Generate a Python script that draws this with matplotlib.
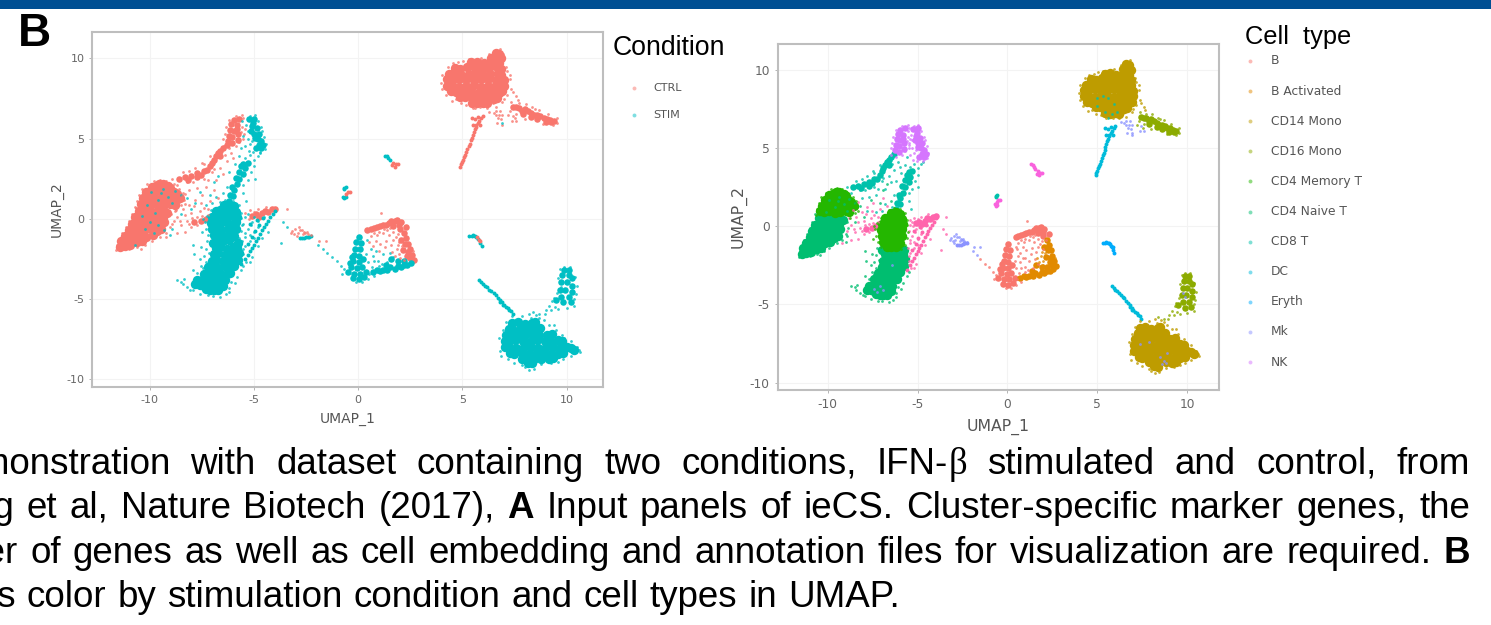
import matplotlib
matplotlib.use("Agg")
import matplotlib.pyplot as plt
from matplotlib.patches import Rectangle

W, H = 1491, 625

conditions = ["CTRL", "STIM"]
condition_colors = ["#F8766D", "#00BFC4"]
cell_types = ["B", "B Activated", "CD14 Mono", "CD16 Mono", "CD4 Memory T", "CD4 Naive T",
              "CD8 T", "DC", "Eryth", "Mk", "NK", "pDC", "T activated"]
cell_colors = ["#F8766D", "#E18A00", "#BE9C00", "#8CAB00", "#24B700", "#00BE70",
               "#00C1AB", "#00BBDA", "#00ACFC", "#8B93FF", "#D575FE", "#F962DD", "#FF65AC"]
x_ticks = [-10, -5, 0, 5, 10]
y_ticks = [-10, -5, 0, 5, 10]

# umap coordinates, one list per cell type and condition
cd4n_ctrl = [(-11.4,-1.75),(-11.2,-1.7),(-10.95,-1.65),(-11.35,-1.4),(-11.15,-1.45),(-10.9,-1.35),(-10.6,-1.45),(-10.35,-1.4),
             (-11.2,-1.05),(-10.95,-1.0),(-10.7,-1.1),(-10.45,-1.0),(-10.15,-1.1),(-9.85,-1.0),(-11.0,-0.7),(-10.8,-0.75),
             (-10.55,-0.65),(-10.25,-0.7),(-9.95,-0.65),(-9.65,-0.75),(-9.45,-0.6),(-10.85,-0.3),(-10.65,-0.35),(-10.4,-0.25),
             (-10.1,-0.3),(-9.8,-0.25),(-9.5,-0.35),(-9.3,-0.2),(-10.7,0.1),(-10.5,0.05),(-10.2,0.15),(-9.9,0.1),(-9.6,0.05),
             (-9.35,0.15),(-10.5,0.5),(-10.3,0.45),(-10.0,0.5),(-9.7,0.45),(-9.4,0.5),(-9.15,0.4)]
cd4n_ctrl_sp = [(-11.6,-1.95),(-11.55,-1.6),(-11.45,-1.25),(-11.3,-0.85),(-11.15,-0.5),(-11.0,-0.1),(-10.85,0.3),(-10.7,0.75),(-11.0,-1.9),
                (-10.6,-1.75),(-10.2,-1.6),(-9.9,-1.4),(-9.5,-1.1),(-9.2,-0.85),(-9.0,-0.5),(-8.85,-0.1),(-8.95,0.3),(-10.4,-1.85)]
cd4m_ctrl = [(-10.4,0.95),(-10.2,0.9),(-9.9,0.95),(-9.6,0.85),(-9.3,0.9),(-9.0,0.95),(-8.8,0.9),(-10.3,1.3),(-10.1,1.25),
             (-9.8,1.35),(-9.5,1.25),(-9.2,1.3),(-8.9,1.35),(-8.7,1.25),(-8.55,1.3),(-10.15,1.65),(-10.0,1.65),(-9.7,1.75),
             (-9.4,1.65),(-9.1,1.7),(-8.85,1.7),(-8.7,1.55),(-9.9,2.0),(-9.7,2.05),(-9.4,2.0),(-9.1,2.05),(-9.0,1.95),
             (-9.55,2.2),(-9.35,2.2)]
cd4m_ctrl_sp = [(-10.65,0.7),(-10.6,1.1),(-10.5,1.5),(-10.35,1.85),(-10.1,2.15),(-9.8,2.35),(-9.5,2.45),(-9.2,2.35),(-8.85,2.15),(-8.6,1.85),
                (-8.4,1.6),(-8.35,1.2),(-8.5,0.85),(-8.75,0.55),(-8.3,0.95),(-8.45,1.45)]
cd4m_stim = [(-6.45,0.85),(-6.2,0.9),(-5.95,0.8),(-6.8,0.5),(-6.6,0.55),(-6.3,0.5),(-6.0,0.55),(-5.85,0.45),(-7.0,0.15),(-6.8,0.2),
             (-6.5,0.1),(-6.2,0.2),(-5.9,0.1),(-5.8,0.15),(-7.05,-0.25),(-6.85,-0.2),(-6.6,-0.3),(-6.3,-0.2),(-6.0,-0.3),
             (-5.85,-0.2),(-7.0,-0.65),(-6.8,-0.6),(-6.55,-0.7),(-6.25,-0.6),(-5.95,-0.7),(-5.85,-0.6),(-6.9,-1.0),(-6.7,-1.0),
             (-6.4,-1.1),(-6.1,-1.0),(-5.95,-1.05),(-6.7,-1.3),(-6.5,-1.35),(-6.2,-1.3)]
cd4m_stim_sp = [(-6.6,1.05),(-6.3,1.15),(-6.0,1.1),(-5.7,0.85),(-7.05,0.55),(-7.25,0.2),(-7.35,-0.2),(-7.3,-0.6),(-7.2,-1.0),(-7.05,-1.35),
                (-5.6,0.4),(-5.6,0.05),(-5.55,-0.35),(-5.6,-0.75),(-5.7,-1.2),(-5.9,-1.45),(-7.45,0.0),(-7.5,-0.8)]
cd4n_stim = [(-6.8,-1.8),(-6.6,-1.75),(-6.3,-1.85),(-6.0,-1.75),(-5.8,-1.8),(-6.9,-2.2),(-6.7,-2.15),(-6.4,-2.25),(-6.1,-2.15),
             (-5.85,-2.2),(-5.7,-2.1),(-7.0,-2.6),(-6.8,-2.55),(-6.5,-2.65),(-6.2,-2.55),(-5.9,-2.6),(-5.75,-2.55),(-7.2,-3.0),
             (-7.0,-2.95),(-6.7,-3.05),(-6.4,-2.95),(-6.1,-3.0),(-5.95,-2.95),(-7.4,-3.4),(-7.2,-3.35),(-6.9,-3.45),(-6.6,-3.35),
             (-6.3,-3.4),(-6.15,-3.35),(-7.7,-3.8),(-7.5,-3.8),(-7.2,-3.75),(-6.9,-3.85),(-6.6,-3.75),(-6.4,-3.8),(-7.8,-4.05),
             (-7.6,-4.1),(-7.4,-4.15),(-7.2,-4.15),(-6.9,-4.2),(-6.6,-4.15),(-6.5,-4.15),(-7.3,-4.35),(-7.1,-4.4),(-6.9,-4.4),
             (-6.7,-4.4),(-6.95,-1.5),(-5.75,-1.5)]
cd4n_stim_sp = [(-8.7,-3.8),(-8.5,-3.9),(-8.35,-3.75),(-8.2,-4.25),(-7.9,-4.45),(-6.35,-4.7),(-6.6,-4.85),(-7.7,-3.35),
                (-7.55,-2.9),(-7.6,-2.5),(-7.85,-2.2),(-7.4,-2.3),(-7.3,-1.85),(-7.55,-1.75),(-7.9,-1.6),(-7.25,-1.4),
                (-10.1,0.9),(-9.6,1.2),(-9.1,1.4),(-8.9,1.0),(-8.5,1.5),(-8.2,1.3),(-10.2,-0.6),(-9.8,-0.9),(-9.3,-0.7),
                (-9.0,-1.0),(-10.7,-1.6),(-8.9,-0.6),(-8.5,0.3),(-8.0,0.6),(-7.6,1.7),(-7.1,1.5),(-6.9,2.3),(-6.5,1.6),
                (-6.7,2.7),(-5.6,-3.2),(-5.8,-3.6),(-6.1,-3.9),(-7.9,-3.2),(-7.3,-2.7),(-7.6,-4.65),(-7.2,-4.75),(-6.95,-4.8),
                (-8.05,-4.4),(-8.4,-4.05),(-5.5,-2.9),(-5.9,-4.0),(-6.2,-4.3),(-6.2,-4.55),(-7.45,-3.05),(-7.15,-2.15),
                (-9.95,1.7),(-9.45,1.6),(-9.75,0.4),(-10.0,-0.2),(-9.6,-0.4),(-9.35,1.85),(-8.8,1.75),(-10.35,0.2)]
cd8_ctrl = [(-8.6,2.5),(-8.3,2.6),(-8.0,2.7),(-7.7,2.85),(-7.4,3.0),(-7.7,2.6),(-7.1,3.3),(-6.9,3.7),(-6.7,4.1),(-6.5,4.4),
            (-6.3,4.6),(-6.6,3.9),(-8.15,2.45),(-7.55,2.75),(-7.25,3.05),(-7.0,3.5),(-6.8,3.9),(-6.6,4.25)]
cd8_ctrl_sp = [(-8.9,2.5),(-8.7,2.1),(-8.2,2.3),(-7.9,2.3),(-7.4,2.5),(-7.0,2.9),(-6.6,3.2),(-6.3,3.6),(-6.1,4.1),(-7.4,3.4),
               (-7.1,3.9),(-8.1,1.8),(-7.7,1.9),(-7.3,2.0),(-6.8,2.4),(5.0,8.2),(5.3,8.3),(5.6,8.2),(5.0,7.7),(5.9,7.8),
               (5.4,7.3),(5.8,7.2),(6.1,7.3),(5.6,6.9),(-8.4,2.9),(-8.1,3.0),(-7.8,3.2),(-7.5,3.5),(-7.2,2.4),(-6.5,2.8),
               (-6.9,3.1),(-6.4,4.0),(-6.0,3.8)]
cd8_stim = [(-6.2,1.1),(-6.0,1.45),(-5.95,1.8),(-5.8,2.15),(-5.7,2.5),(-5.5,2.8),(-5.4,3.15),(-5.3,3.5),(-5.6,3.3),(-6.15,1.5),
            (-6.05,2.0),(-5.85,2.55),(-5.7,2.95),(-5.5,3.45)]
cd8_stim_sp = [(-5.5,1.6),(-6.4,1.2),(-6.3,2.0),(-5.3,2.4),(-5.0,3.3),(-6.2,2.9),(-5.9,3.4),(-5.7,3.9),(-5.2,4.0),(-5.6,4.4),
               (-5.0,3.7),(-4.8,3.95),(-7.0,1.0),(-6.8,1.4),(-7.3,0.9),(-7.8,1.0),(-5.35,1.1),(-5.5,2.1),(-5.15,2.9),(-4.95,2.5),
               (-4.7,4.1),(-5.4,3.8)]
nk_ctrl = [(-5.7,6.25),(-5.95,6.15),(-6.1,5.9),(-5.8,5.85),(-6.15,5.55),(-5.95,5.5),(-6.2,5.2),(-6.05,5.1),(-5.75,5.3),(-6.25,4.85),
           (-6.05,4.75),(-5.8,5.6),(-5.75,4.95)]
nk_ctrl_sp = [(-5.5,6.3),(-5.55,5.7),(-5.45,5.3),(-5.7,4.8),(-5.5,5.0),(-6.45,4.55),(-6.2,4.45),(-5.85,4.55),(-6.5,5.0),(-5.55,6.45),
              (-5.85,6.4),(-6.2,6.15),(-6.35,5.7),(-6.4,5.3),(-5.6,5.45),(-5.4,5.6)]
nk_stim = [(-5.0,6.25),(-5.25,6.2),(-5.05,5.95),(-4.85,5.65),(-5.15,5.5),(-4.75,5.3),(-4.95,5.05),(-4.65,4.85),(-4.75,4.6),(-4.55,4.6),
           (-4.9,4.4),(-4.65,4.45),(-5.1,5.8),(-5.0,5.3),(-4.8,5.0)]
nk_stim_sp = [(-5.35,5.85),(-5.5,5.2),(-5.3,5.0),(-5.2,4.7),(-5.4,4.55),(-5.25,4.25),(-4.65,5.7),(-5.55,6.1),(-5.3,5.5),(-5.1,4.85),
              (-4.95,6.45),(-5.2,6.4),(-4.8,6.1),(-4.6,5.5),(-4.5,5.1),(-4.4,4.7),(-4.45,4.35),(-4.7,4.2),(-5.05,4.15)]
tact_ctrl = [(-4.0,0.65),(-4.3,0.45),(-4.6,0.35),(-4.9,0.3),(-5.1,0.2),(-7.3,0.0),(-7.55,-0.1),(-7.85,-0.2),(-4.15,0.6),(-4.45,0.5),(-4.75,0.15)]
tact_ctrl_sp = [(-8.7,0.1),(-8.4,0.6),(-8.1,0.9),(-7.8,1.2),(-7.4,0.7),(-8.9,-0.3),(-8.5,-0.4),(-8.2,-0.1),(-8.0,0.35),(-7.6,0.5),
                (-7.2,0.6),(-7.1,1.1),(-8.6,1.05),(-7.5,1.5),(-6.9,1.8),(-6.7,1.3),(-8.3,-0.8),(-8.7,-0.9),(-9.2,-1.1),(-8.0,-0.5),
                (-7.7,0.15),(-8.8,0.5),(-4.8,0.6),(-4.4,0.75),(-5.4,0.4),(-3.4,0.6),(-8.3,0.25),(-7.95,0.05),(-7.5,0.2),(-7.2,0.25),
                (-8.55,-0.15),(-8.1,-0.3),(-7.7,-0.35),(-8.3,1.55),(-7.85,0.8),(-7.55,1.0),(-5.2,0.55),(-5.0,0.45),(-5.25,0.0)]
tact_stim = [(-4.0,0.5),(-4.2,0.1),(-4.4,-0.3),(-4.6,-0.7),(-4.8,-1.2),(-5.0,-1.6),(-5.2,-2.0),(-5.4,-2.5),(-5.6,-2.8),(-4.1,0.3),
             (-4.3,-0.1),(-4.5,-0.5),(-4.7,-0.95),(-4.9,-1.4),(-5.1,-1.8),(-5.3,-2.25),(-4.75,-0.35),(-4.95,-0.75),(-4.55,0.05),(-4.85,-0.05),
             (-5.2,-0.3),(-5.1,-1.15),(-5.3,-1.55)]
tact_stim_sp = [(-5.4,0.1),(-5.1,-0.2),(-4.8,-0.1),(-4.5,0.1),(-5.3,-0.6),(-5.0,-0.8),(-4.8,-0.5),(-5.4,-1.1),(-5.2,-1.4),(-5.4,-1.7),
                (-5.5,-2.2),(-5.0,0.1),(-5.2,-1.0),(-4.6,-1.2),(-4.3,-0.8),(-5.5,-0.3),(-5.0,-1.2),(-4.8,-1.7),(-5.1,-2.4),(-3.6,-0.2),
                (-3.4,-0.5),(-3.7,-1.5),(-5.3,0.3),(-5.15,-0.4),(-5.4,-0.85),(-5.55,-1.4),(-5.5,-1.9),(-5.35,-2.7),(-5.2,-2.7)]
mk_ctrl_sp = [(-3.15,-0.75),(-3.0,-0.6),(-2.85,-0.5),(-2.9,-0.85),(-2.7,-0.7),(-2.55,-0.85),(-2.4,-0.95),(-2.25,-1.0),(-2.65,-0.95),
              (-3.2,-0.9),(-2.95,-1.05),(-1.85,-1.35),(-1.55,-1.35),(6.6,6.7),(6.75,6.5),(6.85,6.2),(6.5,6.6),(7.4,6.1),
              (7.45,6.4),(7.6,6.1),(6.9,6.5),(6.3,6.65),(6.7,6.3),(-2.8,-0.7),(-2.6,-0.8),(-3.05,-0.95),(-2.45,-0.8),(6.6,6.45),(6.8,6.75),
              (6.65,5.95),(6.9,5.85)]
mk_stim = [(-2.8,-1.2),(-2.6,-1.2),(-2.4,-1.1),(-2.25,-1.05),(-2.7,-1.2),(-2.5,-1.15),(-2.35,-1.1)]
mk_stim_sp = [(-1.9,-1.6),(-1.7,-1.85),(8.7,-8.6),(8.5,-8.35),(8.9,-8.1),(7.4,-7.5),(9.9,-4.5),(9.75,-4.25),(6.9,5.95),(-6.9,-4.1),
              (-7.4,-4.0),(-7.1,-3.8),(-6.4,-2.5),(8.6,-8.8),(8.8,-8.75),(7.9,-7.4),(-7.25,-4.2)]
b_stim = [(0.05,-1.15),(-0.1,-1.45),(0.15,-1.5),(-0.15,-1.85),(0.1,-1.9),(-0.2,-2.25),(0.05,-2.3),(-0.25,-2.65),(0.05,-2.7),(-0.35,-3.0),
          (-0.05,-3.05),(0.2,-3.0),(-0.5,-3.3),(-0.2,-3.4),(0.1,-3.4),(0.4,-3.3),(-0.25,-3.7),(0.05,-3.75),(0.3,-3.6),(-0.3,-2.4),(-0.4,-2.75),(0.25,-2.5)]
b_stim_sp = [(-1.5,-2.1),(-1.25,-2.4),(-1.0,-2.6),(-0.8,-2.9),(0.5,-2.7),(0.7,-2.3),(0.95,-2.6),(1.2,-2.2),(1.0,-2.9),(0.6,-1.9),(1.4,-2.7),
             (0.65,-3.0),(0.45,-1.3),(1.55,-2.1),(0.4,-2.2),(-0.65,-3.1),(-0.75,-3.4),(0.5,-3.75),(0.2,-3.95),(-0.1,-3.95),(0.75,-2.65),(0.85,-2.0),
             (1.15,-2.8),(0.55,-3.4),(0.75,-3.55),(1.7,-2.4)]
b_ctrl = [(0.45,-0.7),(0.75,-0.55),(1.05,-0.45),(1.35,-0.35),(1.6,-0.1),(1.85,-0.05),(2.05,-0.2),(1.7,-0.45),(2.3,-0.5),(2.0,-0.6),
          (0.6,-0.65),(0.9,-0.5),(1.2,-0.4),(1.5,-0.25),(1.75,-0.1),(1.95,-0.35)]
b_ctrl_sp = [(0.9,-1.0),(1.2,-0.9),(1.5,-1.0),(1.7,-1.3),(1.35,-1.4),(1.05,-1.55),(0.85,-1.35),(1.9,-0.95),(1.1,0.35),(0.7,-1.7),
             (1.3,-1.75),(1.6,-1.65),(1.95,-1.45),(0.55,-1.45),(1.0,-2.0),(0.6,-1.05),(1.0,-0.8),(1.4,-0.7),(1.7,-0.8),(2.15,-0.9),(1.55,-0.55),
             (1.25,-0.65),(0.75,-0.85),(1.8,-1.15)]
bact_ctrl = [(2.2,-0.85),(2.3,-1.2),(2.4,-1.55),(2.5,-1.9),(2.6,-2.25),(2.7,-2.55),(2.35,-2.3),(2.15,-1.95),(2.05,-1.3),(2.25,-1.55),(2.4,-2.05),
             (2.5,-2.45)]
bact_ctrl_sp = [(1.85,-1.9),(1.65,-2.05),(1.95,-2.2),(2.2,-2.55),(1.75,-2.3),(1.9,-1.65),(2.1,-1.7),(2.65,-2.0),(2.0,-2.45)]
bact_stim = [(0.7,-3.3),(1.05,-3.25),(1.4,-3.2),(1.75,-3.1),(2.05,-3.0),(2.35,-2.85),(2.55,-2.75),(1.9,-2.6),(1.6,-2.5),(1.35,-2.85),
             (2.2,-2.6),(0.9,-3.2),(1.2,-3.15),(1.55,-3.0),(1.9,-2.9),(2.2,-2.85)]
pdc_stim = [(1.3,3.95),(1.4,3.9),(1.45,3.8),(1.55,3.65),(-0.7,1.4),(-0.65,1.3),(-0.6,1.35)]
pdc_ctrl = [(1.7,3.5),(1.75,3.25),(1.9,3.4),(1.65,3.35),(1.8,3.4),(-0.5,1.65),(-0.6,1.55),(-0.4,1.7)]
cd8_small = [(-0.65,1.95),(-0.65,1.85),(-0.6,2.0)]
cd14_ctrl = [(6.6,10.35),(6.75,10.3),(6.4,10.05),(6.7,10.05),(6.85,10.0),(5.4,9.75),(5.7,9.8),(6.05,9.7),(6.4,9.75),(6.75,9.7),
             (4.65,9.4),(4.9,9.35),(5.25,9.45),(5.6,9.4),(5.95,9.35),(6.3,9.4),(6.65,9.45),(6.85,9.35),(4.35,9.05),(4.6,9.1),
             (4.95,9.0),(5.3,9.05),(5.65,9.1),(6.0,9.0),(6.35,9.05),(6.7,9.1),(6.85,9.0),(4.25,8.7),(4.5,8.65),(4.85,8.75),
             (5.2,8.7),(5.55,8.65),(5.9,8.75),(6.25,8.7),(6.6,8.65),(6.85,8.75),(7.0,8.65),(4.25,8.3),(4.5,8.35),(4.85,8.25),
             (5.2,8.3),(5.55,8.35),(5.9,8.25),(6.25,8.3),(6.6,8.35),(6.85,8.25),(7.0,8.3),(4.45,7.95),(4.7,7.9),(5.05,8.0),
             (5.4,7.9),(5.75,7.85),(6.1,7.95),(6.45,7.9),(6.75,7.85),(6.9,7.95),(4.9,7.6),(5.15,7.6),(5.5,7.5),(5.85,7.55),
             (6.2,7.6),(6.5,7.5),(6.65,7.55),(5.45,7.25),(5.7,7.2),(6.0,7.25),(6.2,7.2)]
cd14_ctrl_sp = [(4.0,8.5),(4.05,9.0),(4.2,7.7),(4.5,7.35),(4.95,7.2),(5.3,9.95),(4.8,9.75),(5.9,10.05),(7.35,8.1),(7.45,7.9),(7.3,9.0),
                (7.1,9.5),(7.0,7.5),(6.6,7.0),(6.2,6.9),(5.5,6.9),(4.3,9.45),(4.55,9.7),(5.05,9.85),(6.3,10.3),(6.8,10.6),(6.95,10.3),(7.15,9.2),
                (7.3,8.7),(7.15,7.75),(4.05,8.1),(4.7,7.45),(5.2,7.1),(5.85,6.95),(6.45,7.25),(6.9,7.3),(7.6,7.65),(7.65,7.4)]
cd16_ctrl = [(7.45,7.0),(7.7,6.9),(8.0,6.85),(7.9,6.55),(8.3,6.6),(8.6,6.5),(8.3,6.35),(8.9,6.3),(8.6,6.2),(9.2,6.15),(9.4,6.1),
             (9.0,6.05),(7.6,6.95),(7.85,6.75),(8.15,6.7),(8.45,6.45),(8.75,6.4),(9.05,6.25),(9.25,6.05)]
cd16_ctrl_sp = [(7.3,6.75),(7.6,6.55),(8.05,7.15),(8.35,6.95),(7.7,7.2),(8.7,6.8),(9.1,6.55),(8.0,6.2),(9.55,6.3),(7.35,7.3),(8.5,6.85),(9.55,5.95),
                (8.85,5.9),(9.35,5.85),(7.55,6.3),(7.2,6.5)]
dc_ctrl = [(4.9,3.25),(4.95,3.4),(5.0,3.55),(5.05,3.7),(5.1,3.85),(5.15,4.0),(5.2,4.2),(5.25,4.35),(5.3,4.55),(5.35,4.7),(5.4,4.9),(5.45,5.05),
           (5.5,5.25),(5.55,5.45),(5.6,5.6),(5.65,5.75),(5.75,5.95),(5.8,6.1),(5.9,6.3),(5.6,6.2),(5.65,5.85),(5.5,5.85),(5.75,6.35),(6.0,6.4),
           (5.45,6.3),(5.85,5.85)]
dc_stim = [(5.8,-3.8),(5.9,-3.95),(6.0,-4.05),(6.1,-4.15),(6.2,-4.25),(6.3,-4.4),(6.4,-4.5),(6.5,-4.6),(6.6,-4.75),(6.7,-4.9),(6.8,-5.05),(6.9,-5.2),
           (7.0,-5.35),(7.1,-5.5),(7.25,-5.65),(7.35,-5.75),(7.45,-5.9),(6.95,-5.35),(7.2,-5.55),(6.8,-5.15)]
eryth_stim = [(5.3,-1.05),(5.45,-1.05),(5.6,-1.05),(5.95,-1.7),(5.85,-1.5),(5.5,-1.0),(5.65,-1.1),(5.75,-1.25)]
eryth_ctrl = [(5.7,-1.15),(5.8,-1.3),(5.85,-1.35)]
cd14_stim = [(7.4,-6.5),(7.65,-6.45),(8.0,-6.55),(8.35,-6.5),(8.5,-6.45),(7.25,-6.85),(7.45,-6.9),(7.8,-6.8),(8.15,-6.85),(8.5,-6.9),
             (8.75,-6.8),(7.1,-7.2),(7.3,-7.15),(7.65,-7.25),(8.0,-7.2),(8.35,-7.15),(8.7,-7.25),(9.05,-7.2),(9.3,-7.15),(7.05,-7.6),
             (7.2,-7.65),(7.55,-7.55),(7.9,-7.6),(8.25,-7.65),(8.6,-7.55),(8.95,-7.6),(9.3,-7.65),(9.6,-7.55),(9.8,-7.6),(7.05,-8.0),
             (7.25,-7.95),(7.6,-8.05),(7.95,-8.0),(8.3,-7.95),(8.65,-8.05),(9.0,-8.0),(9.35,-7.95),(9.7,-8.05),(10.0,-8.0),(10.2,-8.05),
             (10.35,-8.15),(7.3,-8.35),(7.5,-8.4),(7.85,-8.35),(8.2,-8.4),(8.55,-8.4),(8.9,-8.35),(9.25,-8.4),(9.6,-8.4),(9.85,-8.35),
             (7.85,-8.7),(8.1,-8.75),(8.45,-8.7),(8.8,-8.7),(9.15,-8.75),(9.35,-8.65),(8.15,-8.95),(8.35,-9.0)]
cd14_stim_sp = [(8.2,-9.4),(8.45,-9.35),(8.0,-9.25),(7.5,-8.95),(7.2,-8.75),(6.8,-8.2),(6.75,-7.4),(9.85,-8.75),(10.2,-8.55),(10.65,-8.3),
                (10.2,-7.6),(9.8,-7.2),(9.5,-6.9),(9.15,-6.6),(8.9,-6.3),(8.55,-6.0),(8.2,-5.95),(7.85,-6.05),(7.4,-6.05),(6.95,-6.9),(7.1,-6.45),
                (6.85,-8.55),(7.85,-9.1),(8.8,-9.05),(9.25,-9.0),(9.6,-8.9),(10.5,-7.95),(10.6,-8.15),(9.9,-7.4),(9.4,-6.6),(8.7,-6.15),(8.3,-6.2)]
cd16_stim = [(9.9,-3.2),(10.1,-3.2),(9.8,-3.5),(10.1,-3.5),(10.25,-3.7),(9.75,-3.95),(10.0,-3.95),(10.25,-4.15),(9.7,-4.4),(9.95,-4.4),
             (10.25,-4.55),(9.75,-4.85),(10.1,-4.85),(10.2,-5.15),(9.85,-5.2),(9.5,-5.05)]
cd16_stim_sp = [(9.3,-5.1),(9.15,-5.4),(9.45,-5.5),(9.0,-5.7),(8.7,-5.9),(9.4,-4.9),(9.6,-5.6),(10.0,-5.55),(10.35,-5.4),(9.25,-5.7),
                (9.7,-3.1),(10.5,-4.2),(8.95,-5.95),(9.55,-4.6),(9.6,-3.7),(10.4,-3.6),(10.45,-4.7),(10.35,-5.0),(9.9,-3.0),(10.15,-3.0),(8.4,-5.8)]

# list, condition index, cell type index, size tier
groups = [
    (cd4n_ctrl, 0, 5, "core"), (cd4n_ctrl_sp, 0, 5, "sparse"), (cd4n_stim, 1, 5, "core"), (cd4n_stim_sp, 1, 5, "sparse"),
    (cd8_ctrl, 0, 6, "mid"), (cd8_ctrl_sp, 0, 6, "sparse"), (cd8_stim, 1, 6, "mid"), (cd8_stim_sp, 1, 6, "sparse"),
    (cd8_small, 1, 6, "thin"),
    (tact_ctrl, 0, 12, "mid"), (tact_ctrl_sp, 0, 12, "sparse"), (tact_stim, 1, 12, "thin"), (tact_stim_sp, 1, 12, "sparse"),
    (cd4m_ctrl, 0, 4, "core"), (cd4m_ctrl_sp, 0, 4, "sparse"), (cd4m_stim, 1, 4, "core"), (cd4m_stim_sp, 1, 4, "sparse"),
    (nk_ctrl, 0, 10, "mid"), (nk_ctrl_sp, 0, 10, "sparse"), (nk_stim, 1, 10, "mid"), (nk_stim_sp, 1, 10, "sparse"),
    (b_stim, 1, 0, "mid"), (b_stim_sp, 1, 0, "sparse"), (b_ctrl, 0, 0, "mid"), (b_ctrl_sp, 0, 0, "sparse"),
    (bact_ctrl, 0, 1, "mid"), (bact_ctrl_sp, 0, 1, "sparse"), (bact_stim, 1, 1, "mid"),
    (pdc_stim, 1, 11, "thin"), (pdc_ctrl, 0, 11, "thin"),
    (cd14_ctrl, 0, 2, "core"), (cd14_ctrl_sp, 0, 2, "sparse"), (cd16_ctrl, 0, 3, "mid"), (cd16_ctrl_sp, 0, 3, "sparse"),
    (dc_ctrl, 0, 7, "thin"), (dc_stim, 1, 7, "thin"), (eryth_stim, 1, 8, "thin"), (eryth_ctrl, 0, 8, "thin"),
    (cd14_stim, 1, 2, "core"), (cd14_stim_sp, 1, 2, "sparse"), (cd16_stim, 1, 3, "mid"), (cd16_stim_sp, 1, 3, "sparse"),
    (mk_ctrl_sp, 0, 9, "sparse"), (mk_stim, 1, 9, "thin"), (mk_stim_sp, 1, 9, "sparse"),
]
tier_size = {"core": 46, "mid": 22, "thin": 8, "sparse": 4}

caption = [
    [("Demonstration",), ("with",), ("dataset",), ("containing",), ("two",), ("conditions,",), ("IFN-", "β"), ("stimulated",),
     ("and",), ("control,",), ("from",)],
    [("Zheng",), ("et",), ("al,",), ("Nature",), ("Biotech",), ("(2017),",), ("*A",), ("Input",), ("panels",), ("of",), ("ieCS.",),
     ("Cluster-specific",), ("marker",), ("genes,",), ("the",)],
    [("number",), ("of",), ("genes",), ("as",), ("well",), ("as",), ("cell",), ("embedding",), ("and",), ("annotation",), ("files",),
     ("for",), ("visualization",), ("are",), ("required.",), ("*B",)],
    [("Plots",), ("color",), ("by",), ("stimulation",), ("condition",), ("and",), ("cell",), ("types",), ("in",), ("UMAP.",)],
]
caption_right = [1470, 1470, 1470, 900]
caption_base = [474, 518, 563, 607]
caption_gap = [20.3, 12.5, 11.9, 11.0]

plt.rcParams["font.family"] = ["DejaVu Sans"]
plt.rcParams["axes.unicode_minus"] = False
fig = plt.figure(figsize=(W / 100, H / 100), dpi=100)


def fx(x):
    return x / W


def fy(y):
    return 1 - y / H


def make_axes(left, right, top, bottom, xlim, ylim, color_pos, colors, tick_size, label_size, xlab_y, ylab_x):
    ax = fig.add_axes([fx(left), fy(bottom), (right - left) / W, (bottom - top) / H])
    ax.set_xlim(*xlim)
    ax.set_ylim(*ylim)
    ax.set_xticks(x_ticks)
    ax.set_yticks(y_ticks)
    ax.grid(True, color="#F3F3F3", linewidth=0.8)
    ax.set_axisbelow(True)
    for s in ax.spines.values():
        s.set_color("#BEBEBE")
        s.set_linewidth(1.5)
    ax.tick_params(length=2.5, width=0.6, color="#A8A8A8", labelcolor="#666666", labelsize=tick_size, pad=3)
    ax.set_xlabel("UMAP_1", fontsize=label_size, color="#555555")
    ax.set_ylabel("UMAP_2", fontsize=label_size, color="#555555")
    ax.xaxis.set_label_coords(0.5, xlab_y)
    ax.yaxis.set_label_coords(ylab_x, 0.5)
    # sparse cells go on top so the stray colours stay visible in the dense blobs
    for g in sorted(groups, key=lambda g: g[3] == "sparse"):
        xs = [p[0] for p in g[0]]
        ys = [p[1] for p in g[0]]
        ax.scatter(xs, ys, s=tier_size[g[3]], color=colors[g[color_pos]], linewidths=0, alpha=1 if g[3] != "sparse" else 0.8)
    return ax


make_axes(92, 603, 32, 387, (-12.76, 11.75), (-10.47, 11.65), 1, condition_colors, 8, 10, -0.07, -0.055)
make_axes(777.5, 1218.7, 44, 390, (-12.79, 11.75), (-10.47, 11.65), 2, cell_colors, 8.8, 11.3, -0.084, -0.07)

# top bar and panel letter
fig.add_artist(Rectangle((0, fy(9)), 1, 9 / H, transform=fig.transFigure, color="#004F93", lw=0))
fig.text(fx(18), fy(46), "B", fontsize=33, fontweight="bold", family="Liberation Sans", color="black")

# legends
fig.text(fx(613), fy(55), "Condition", fontsize=19.2, family="Liberation Sans", color="black")
leg_ax = fig.add_axes([0, 0, 1, 1])
leg_ax.set_xlim(0, W)
leg_ax.set_ylim(H, 0)
leg_ax.axis("off")
for i, name in enumerate(conditions):
    y = [88, 115][i]
    leg_ax.scatter([634], [y], s=8, color=condition_colors[i], alpha=0.5, linewidths=0)
    leg_ax.text(653, y, name, fontsize=8, color="#555555", va="center")
fig.text(fx(1245), fy(44), "Cell  type", fontsize=18.3, family="Liberation Sans", color="black")
for i, name in enumerate(cell_types[:11]):
    y = 61 + i * 30.1
    leg_ax.scatter([1250], [y], s=8, color=cell_colors[i], alpha=0.5, linewidths=0)
    leg_ax.text(1271, y, name, fontsize=8.8, color="#555555", va="center")

# caption is placed word by word from the right end of each line
renderer = fig.canvas.get_renderer()
for words, right, base, gap in zip(caption, caption_right, caption_base, caption_gap):
    x = right
    for word in reversed(words):
        for piece in reversed(word):
            bold = piece.startswith("*")
            fam = "Liberation Serif" if piece == "β" else "Liberation Sans"
            t = leg_ax.text(x, base, piece.lstrip("*"), fontsize=26.5, family=fam, ha="right", va="baseline",
                            fontweight="bold" if bold else "normal", color="black", clip_on=False)
            x -= t.get_window_extent(renderer).width
        x -= gap

fig.savefig("out.png", dpi=100)
plt.close(fig)
